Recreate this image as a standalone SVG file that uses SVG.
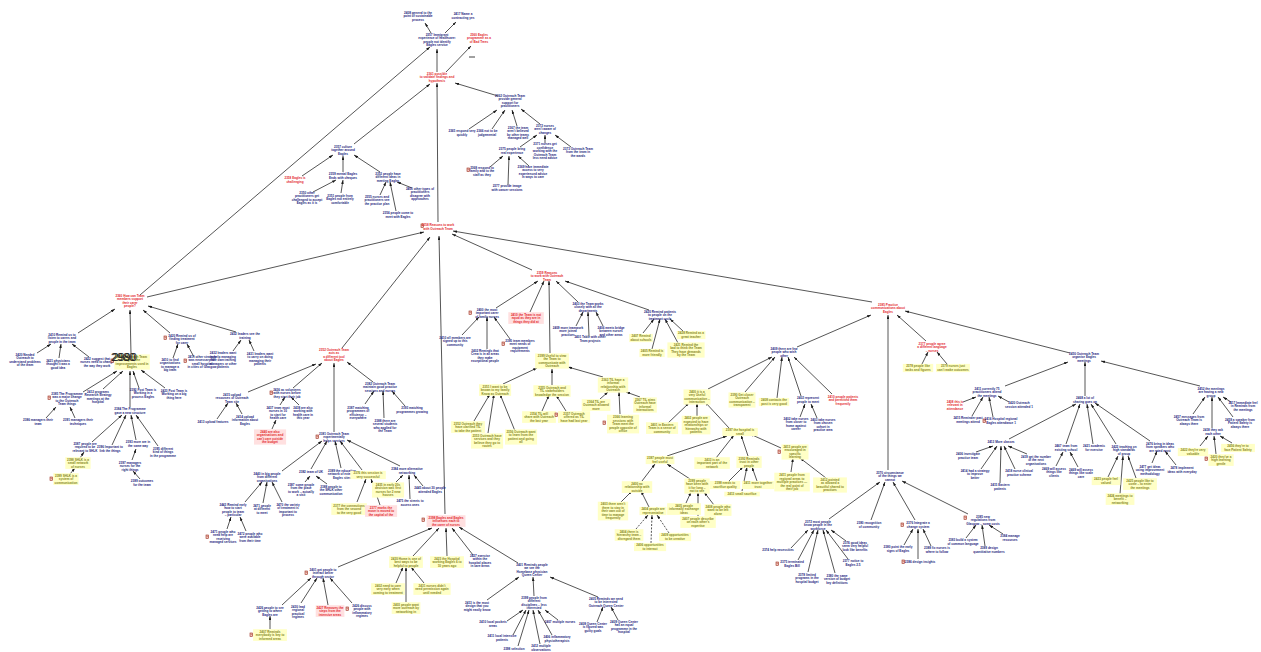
<svg xmlns="http://www.w3.org/2000/svg" xmlns:xlink="http://www.w3.org/1999/xlink" width="1261" height="652" viewBox="0 0 1261 652">
<style>
text{font-family:"Liberation Sans",Arial,sans-serif;font-size:3.1px;font-weight:700;text-anchor:middle}
.t{fill:#1d1d7d}
.ty{fill:#85851a}
.tr{fill:#e3262b}
.by{fill:#ffffc6}
.bp{fill:#ffe0e0}
.c line{stroke:#1e1e1e;stroke-width:0.75;marker-end:url(#ah)}
.c line.d{stroke-dasharray:2 1.4}
.big{font-family:"Liberation Sans",Arial,sans-serif;font-size:11px;font-weight:400;text-anchor:start;fill:#222}
</style>
<defs>
<marker id="ah" viewBox="0 0 6 4" refX="6" refY="2" markerWidth="4" markerHeight="2.7" markerUnits="userSpaceOnUse" orient="auto"><path d="M0,0 L6,2 L0,4 z" fill="#1a1a1a"/></marker>
<g id="ic"><rect x="0" y="0" width="2.6" height="3.4" fill="#f3c7bd" stroke="#9b2b1c" stroke-width="0.6"/><rect x="0.7" y="0.9" width="1.2" height="0.5" fill="#9b2b1c"/></g>
</defs>
<rect width="1261" height="652" fill="#fff"/>

<!-- connectors: child to parent, arrowhead at the parent -->
<g id="connectors" class="c">
<line x1="431" y1="33" x2="425" y2="23"/>
<line x1="445" y1="33" x2="456" y2="22"/>
<line x1="437" y1="72" x2="437" y2="49"/>
<line x1="446" y1="72" x2="471" y2="46"/>
<line x1="498" y1="96" x2="455" y2="83"/>
<line x1="469" y1="129" x2="497" y2="110"/>
<line x1="492" y1="129" x2="505" y2="110"/>
<line x1="517" y1="126" x2="512" y2="110"/>
<line x1="540" y1="124" x2="521" y2="109"/>
<line x1="520" y1="147" x2="537" y2="135"/>
<line x1="545" y1="143" x2="545" y2="135"/>
<line x1="571" y1="147" x2="555" y2="135"/>
<line x1="490" y1="167" x2="503" y2="156"/>
<line x1="508" y1="185" x2="509" y2="156"/>
<line x1="529" y1="166" x2="518" y2="156"/>
<line x1="354" y1="144" x2="430" y2="84"/>
<line x1="140" y1="295" x2="430" y2="47"/>
<line x1="438" y1="222" x2="437" y2="83"/>
<line x1="302" y1="176" x2="333" y2="155"/>
<line x1="343" y1="172" x2="343" y2="156"/>
<line x1="380" y1="172" x2="354" y2="155"/>
<line x1="412" y1="188" x2="397" y2="182"/>
<line x1="313" y1="192" x2="336" y2="180"/>
<line x1="341" y1="193" x2="343" y2="180"/>
<line x1="380" y1="195" x2="386" y2="182"/>
<line x1="396" y1="211" x2="390" y2="182"/>
<line x1="147" y1="297" x2="424" y2="232"/>
<line x1="342" y1="348" x2="430" y2="237"/>
<line x1="445" y1="514" x2="439" y2="236"/>
<line x1="532" y1="270" x2="452" y2="234"/>
<line x1="872" y1="302" x2="453" y2="231"/>
<line x1="78" y1="333" x2="115" y2="309"/>
<line x1="37" y1="353" x2="51" y2="344"/>
<line x1="59" y1="358" x2="61" y2="344"/>
<line x1="89" y1="357" x2="72" y2="344"/>
<line x1="131" y1="354" x2="130" y2="310"/>
<line x1="170" y1="333" x2="143" y2="310"/>
<line x1="173" y1="358" x2="178" y2="344"/>
<line x1="194" y1="357" x2="187" y2="344"/>
<line x1="236" y1="332" x2="148" y2="306"/>
<line x1="233" y1="351" x2="241" y2="340"/>
<line x1="254" y1="351" x2="249" y2="340"/>
<line x1="83" y1="392" x2="117" y2="371"/>
<line x1="103" y1="389" x2="123" y2="371"/>
<line x1="139" y1="388" x2="133" y2="371"/>
<line x1="165" y1="388" x2="141" y2="370"/>
<line x1="130" y1="407" x2="130" y2="371"/>
<line x1="46" y1="418" x2="56" y2="407"/>
<line x1="75" y1="418" x2="70" y2="407"/>
<line x1="92" y1="442" x2="122" y2="415"/>
<line x1="112" y1="445" x2="126" y2="415"/>
<line x1="136" y1="440" x2="131" y2="415"/>
<line x1="158" y1="446" x2="136" y2="415"/>
<line x1="80" y1="458" x2="84" y2="452"/>
<line x1="70" y1="474" x2="75" y2="468"/>
<line x1="132" y1="460" x2="136" y2="449"/>
<line x1="140" y1="479" x2="133" y2="471"/>
<line x1="248" y1="392" x2="316" y2="364"/>
<line x1="217" y1="419" x2="228" y2="403"/>
<line x1="242" y1="414" x2="236" y2="403"/>
<line x1="293" y1="388" x2="322" y2="363"/>
<line x1="280" y1="405" x2="285" y2="397"/>
<line x1="299" y1="405" x2="291" y2="397"/>
<line x1="272" y1="429" x2="276" y2="420"/>
<line x1="373" y1="382" x2="347" y2="362"/>
<line x1="365" y1="404" x2="374" y2="391"/>
<line x1="384" y1="418" x2="383" y2="391"/>
<line x1="405" y1="406" x2="392" y2="391"/>
<line x1="334" y1="432" x2="334" y2="363"/>
<line x1="282" y1="471" x2="322" y2="441"/>
<line x1="311" y1="469" x2="327" y2="441"/>
<line x1="341" y1="468" x2="335" y2="441"/>
<line x1="362" y1="470" x2="340" y2="441"/>
<line x1="400" y1="466" x2="347" y2="440"/>
<line x1="245" y1="502" x2="262" y2="482"/>
<line x1="263" y1="503" x2="267" y2="482"/>
<line x1="282" y1="502" x2="272" y2="482"/>
<line x1="227" y1="529" x2="231" y2="517"/>
<line x1="246" y1="531" x2="240" y2="517"/>
<line x1="305" y1="482" x2="310" y2="476"/>
<line x1="327" y1="484" x2="316" y2="476"/>
<line x1="357" y1="502" x2="366" y2="479"/>
<line x1="380" y1="505" x2="371" y2="479"/>
<line x1="396" y1="482" x2="403" y2="475"/>
<line x1="410" y1="499" x2="409" y2="475"/>
<line x1="423" y1="486" x2="414" y2="475"/>
<line x1="338" y1="567" x2="432" y2="528"/>
<line x1="413" y1="556" x2="439" y2="528"/>
<line x1="447" y1="556" x2="446" y2="528"/>
<line x1="473" y1="555" x2="452" y2="528"/>
<line x1="518" y1="563" x2="459" y2="527"/>
<line x1="282" y1="605" x2="311" y2="578"/>
<line x1="301" y1="603" x2="317" y2="578"/>
<line x1="328" y1="605" x2="323" y2="578"/>
<line x1="352" y1="603" x2="330" y2="578"/>
<line x1="270" y1="629" x2="270" y2="616"/>
<line x1="396" y1="583" x2="403" y2="567"/>
<line x1="406" y1="602" x2="406" y2="567"/>
<line x1="424" y1="583" x2="411" y2="567"/>
<line x1="487" y1="600" x2="519" y2="577"/>
<line x1="534" y1="596" x2="533" y2="577"/>
<line x1="598" y1="597" x2="550" y2="577"/>
<line x1="507" y1="621" x2="523" y2="610"/>
<line x1="513" y1="635" x2="526" y2="610"/>
<line x1="518" y1="646" x2="529" y2="610"/>
<line x1="540" y1="644" x2="533" y2="610"/>
<line x1="552" y1="635" x2="538" y2="610"/>
<line x1="558" y1="620" x2="545" y2="610"/>
<line x1="597" y1="622" x2="603" y2="607"/>
<line x1="618" y1="620" x2="611" y2="607"/>
<line x1="496" y1="308" x2="538" y2="281"/>
<line x1="530" y1="312" x2="544" y2="281"/>
<line x1="578" y1="302" x2="556" y2="281"/>
<line x1="649" y1="310" x2="565" y2="281"/>
<line x1="550" y1="353" x2="549" y2="281"/>
<line x1="462" y1="335" x2="479" y2="317"/>
<line x1="487" y1="349" x2="487" y2="317"/>
<line x1="510" y1="339" x2="494" y2="317"/>
<line x1="576" y1="326" x2="583" y2="312"/>
<line x1="589" y1="336" x2="588" y2="312"/>
<line x1="603" y1="326" x2="596" y2="312"/>
<line x1="643" y1="333" x2="654" y2="319"/>
<line x1="652" y1="349" x2="660" y2="319"/>
<line x1="678" y1="343" x2="665" y2="319"/>
<line x1="683" y1="331" x2="670" y2="319"/>
<line x1="503" y1="384" x2="537" y2="368"/>
<line x1="552" y1="385" x2="552" y2="369"/>
<line x1="603" y1="377" x2="568" y2="367"/>
<line x1="474" y1="421" x2="490" y2="394"/>
<line x1="488" y1="433" x2="494" y2="394"/>
<line x1="515" y1="431" x2="500" y2="394"/>
<line x1="542" y1="411" x2="549" y2="395"/>
<line x1="566" y1="411" x2="556" y2="395"/>
<line x1="600" y1="399" x2="608" y2="392"/>
<line x1="620" y1="414" x2="619" y2="392"/>
<line x1="640" y1="397" x2="626" y2="392"/>
<line x1="797" y1="347" x2="871" y2="315"/>
<line x1="708" y1="389" x2="772" y2="357"/>
<line x1="745" y1="392" x2="775" y2="357"/>
<line x1="777" y1="398" x2="782" y2="357"/>
<line x1="801" y1="396" x2="788" y2="357"/>
<line x1="832" y1="394" x2="794" y2="357"/>
<line x1="800" y1="417" x2="805" y2="404"/>
<line x1="817" y1="418" x2="811" y2="404"/>
<line x1="667" y1="424" x2="689" y2="403"/>
<line x1="697" y1="416" x2="697" y2="403"/>
<line x1="729" y1="428" x2="705" y2="402"/>
<line x1="667" y1="456" x2="727" y2="436"/>
<line x1="716" y1="458" x2="734" y2="435"/>
<line x1="748" y1="456" x2="741" y2="435"/>
<line x1="781" y1="448" x2="750" y2="434"/>
<line x1="791" y1="472" x2="793" y2="458"/>
<line x1="826" y1="478" x2="800" y2="458"/>
<line x1="729" y1="481" x2="743" y2="467"/>
<line x1="757" y1="481" x2="752" y2="467"/>
<line x1="742" y1="491" x2="747" y2="467"/>
<line x1="642" y1="481" x2="655" y2="464"/>
<line x1="690" y1="479" x2="667" y2="464"/>
<line x1="621" y1="502" x2="632" y2="491"/>
<line x1="649" y1="507" x2="641" y2="491"/>
<line class="d" x1="636" y1="529" x2="648" y2="515"/>
<line class="d" x1="651" y1="543" x2="652" y2="515"/>
<line class="d" x1="669" y1="533" x2="657" y2="515"/>
<line x1="686" y1="503" x2="691" y2="492"/>
<line x1="698" y1="516" x2="698" y2="492"/>
<line x1="714" y1="505" x2="704" y2="492"/>
<line x1="926" y1="341" x2="897" y2="315"/>
<line x1="922" y1="364" x2="928" y2="352"/>
<line x1="947" y1="364" x2="937" y2="352"/>
<line x1="888" y1="470" x2="888" y2="315"/>
<line x1="829" y1="519" x2="880" y2="482"/>
<line x1="871" y1="520" x2="885" y2="482"/>
<line x1="915" y1="520" x2="893" y2="482"/>
<line x1="968" y1="514" x2="902" y2="481"/>
<line x1="791" y1="548" x2="808" y2="530"/>
<line x1="798" y1="560" x2="814" y2="530"/>
<line x1="808" y1="572" x2="818" y2="530"/>
<line x1="835" y1="573" x2="823" y2="530"/>
<line x1="848" y1="559" x2="826" y2="530"/>
<line x1="846" y1="541" x2="831" y2="530"/>
<line x1="904" y1="545" x2="913" y2="529"/>
<line x1="918" y1="559" x2="918" y2="529"/>
<line x1="931" y1="546" x2="923" y2="529"/>
<line x1="966" y1="538" x2="976" y2="525"/>
<line x1="985" y1="546" x2="982" y2="525"/>
<line x1="1003" y1="534" x2="989" y2="525"/>
<line x1="1070" y1="353" x2="905" y2="311"/>
<line x1="1005" y1="386" x2="1068" y2="362"/>
<line x1="963" y1="402" x2="976" y2="397"/>
<line x1="972" y1="416" x2="983" y2="397"/>
<line x1="993" y1="417" x2="989" y2="397"/>
<line x1="1009" y1="402" x2="998" y2="396"/>
<line x1="1085" y1="396" x2="1085" y2="362"/>
<line x1="1200" y1="386" x2="1101" y2="361"/>
<line x1="1009" y1="439" x2="1076" y2="404"/>
<line x1="1066" y1="444" x2="1080" y2="404"/>
<line x1="1093" y1="444" x2="1087" y2="404"/>
<line x1="1116" y1="444" x2="1091" y2="404"/>
<line x1="1150" y1="441" x2="1095" y2="403"/>
<line x1="976" y1="452" x2="993" y2="446"/>
<line x1="981" y1="469" x2="997" y2="446"/>
<line x1="1000" y1="483" x2="1001" y2="446"/>
<line x1="1015" y1="469" x2="1004" y2="446"/>
<line x1="1027" y1="454" x2="1008" y2="446"/>
<line x1="1056" y1="466" x2="1063" y2="452"/>
<line x1="1078" y1="467" x2="1070" y2="452"/>
<line x1="1108" y1="477" x2="1118" y2="456"/>
<line x1="1120" y1="494" x2="1123" y2="456"/>
<line x1="1136" y1="478" x2="1128" y2="456"/>
<line x1="1152" y1="463" x2="1157" y2="451"/>
<line x1="1176" y1="465" x2="1165" y2="451"/>
<line x1="1193" y1="414" x2="1205" y2="397"/>
<line x1="1212" y1="428" x2="1212" y2="397"/>
<line x1="1233" y1="417" x2="1218" y2="397"/>
<line x1="1231" y1="402" x2="1223" y2="397"/>
<line x1="1200" y1="446" x2="1208" y2="436"/>
<line x1="1216" y1="454" x2="1214" y2="436"/>
<line x1="1232" y1="443" x2="1220" y2="436"/>
</g>

<!-- top cluster -->
<g id="n2408"><text class="t" x="418" y="13.6">2408 general to the<tspan x="418" dy="3.5">point of sustainable</tspan><tspan x="418" dy="3.5">process</tspan></text></g>
<g id="n2417"><text class="t" x="463" y="15.4">2417 Name a<tspan x="463" dy="3.5">contracting yes</tspan></text></g>
<g id="n2357"><text class="t" x="437" y="35.8">2357 Immigrant<tspan x="437" dy="3.5">experience of healthcare:</tspan><tspan x="437" dy="3.5">people not identify</tspan><tspan x="437" dy="3.5">Eagles service</tspan></text></g>
<g id="n2360a"><text class="tr" x="479" y="35.6">2360 Eagles<tspan x="479" dy="3.5">programme as a</tspan><tspan x="479" dy="3.5">of Bad Trees</tspan></text></g>
<g id="dash"><line x1="469" y1="57" x2="475" y2="57" stroke="#111" stroke-width="0.8"/></g>
<g id="n2361"><text class="tr" x="437" y="74.6">2361 possible<tspan x="437" dy="3.5">to validate findings and</tspan><tspan x="437" dy="3.5">hypothesis</tspan></text></g>
<g id="n2362"><text class="t" x="510" y="96.8">2362 Outreach Team<tspan x="510" dy="3.5">provide general</tspan><tspan x="510" dy="3.5">support for</tspan><tspan x="510" dy="3.5">practitioners</tspan></text></g>
<g id="n2365"><text class="t" x="462" y="132.4">2365 respond very<tspan x="462" dy="3.5">quickly</tspan></text></g>
<g id="n2366"><text class="t" x="487" y="132.4">2366 not to be<tspan x="487" dy="3.5">judgemental</tspan></text></g>
<g id="n2367"><text class="t" x="518" y="128.8">2367 the team<tspan x="518" dy="3.5">aren't believed</tspan><tspan x="518" dy="3.5">by other teams</tspan><tspan x="518" dy="3.5">managed well</tspan></text></g>
<g id="n2372"><text class="t" x="545" y="126.6">2372 nurses<tspan x="545" dy="3.5">aren't aware of</tspan><tspan x="545" dy="3.5">changes</tspan></text></g>
<g id="n2375"><text class="t" x="512" y="150.4">2375 people bring<tspan x="512" dy="3.5">real experience</tspan></text></g>
<g id="n2371"><text class="t" x="545" y="145">2371 nurses get<tspan x="545" dy="3.5">confidence</tspan><tspan x="545" dy="3.5">working with the</tspan><tspan x="545" dy="3.5">Outreach Team</tspan><tspan x="545" dy="3.5">less need advice</tspan></text></g>
<g id="n2373"><text class="t" x="578" y="149.6">2373 Outreach Team<tspan x="578" dy="3.5">from the team in</tspan><tspan x="578" dy="3.5">the wards</tspan></text></g>
<g id="n2368"><use href="#ic" x="467" y="168"/><text class="t" x="482" y="168.6">2368 respond to<tspan x="482" dy="3.5">family and to the</tspan><tspan x="482" dy="3.5">staff as they</tspan></text></g>
<g id="n2377a"><text class="t" x="507" y="187.4">2377 provide image<tspan x="507" dy="3.5">with cancer sessions</tspan></text></g>
<g id="n2369"><text class="t" x="533" y="167.8">2369 have immediate<tspan x="533" dy="3.5">access to very</tspan><tspan x="533" dy="3.5">experienced advice</tspan><tspan x="533" dy="3.5">in ways to care</tspan></text></g>

<!-- culture cluster -->
<g id="n2357b"><text class="t" x="343" y="147.6">2357 culture<tspan x="343" dy="3.5">together around</tspan><tspan x="343" dy="3.5">Eagles</tspan></text></g>
<g id="n2358a"><text class="tr" x="295" y="179.4">2358 Eagles is<tspan x="295" dy="3.5">challenging</tspan></text></g>
<g id="n2359a"><text class="t" x="343" y="175.4">2359 mental Eagles<tspan x="343" dy="3.5">Ends with cheques</tspan></text></g>
<g id="n2353a"><text class="t" x="388" y="174.6">2353 people have<tspan x="388" dy="3.5">different ideas in</tspan><tspan x="388" dy="3.5">meeting Eagles</tspan></text></g>
<g id="n2400a"><text class="t" x="420" y="189.8">2400 other types of<tspan x="420" dy="3.5">practitioners</tspan><tspan x="420" dy="3.5">disagree with</tspan><tspan x="420" dy="3.5">approaches</tspan></text></g>
<g id="n2350a"><text class="t" x="307" y="193.8">2350 other<tspan x="307" dy="3.5">practitioners get</tspan><tspan x="307" dy="3.5">challenged to accept</tspan><tspan x="307" dy="3.5">Eagles as it is</tspan></text></g>
<g id="n2351a"><text class="t" x="340" y="196.6">2351 people from<tspan x="340" dy="3.5">Eagles not entirely</tspan><tspan x="340" dy="3.5">comfortable</tspan></text></g>
<g id="n2355a"><text class="t" x="377" y="197.6">2355 nurses and<tspan x="377" dy="3.5">practitioners see</tspan><tspan x="377" dy="3.5">the practice plan</tspan></text></g>
<g id="n2356a"><text class="t" x="398" y="214.4">2356 people come to<tspan x="398" dy="3.5">meet with Eagles</tspan></text></g>

<!-- hub -->
<g id="n2358"><use href="#ic" x="421" y="224"/><text class="tr" x="438" y="226.4">2358 Reasons to work<tspan x="438" dy="3.5">with Outreach Team</tspan></text></g>

<!-- left branch -->
<g id="n2360"><text class="tr" x="130" y="296.8">2360 How can Team<tspan x="130" dy="3.5">members support</tspan><tspan x="130" dy="3.5">their carer</tspan><tspan x="130" dy="3.5">people?</tspan></text></g>
<g id="n2410a"><text class="t" x="62" y="335.6">2410 Remind us to<tspan x="62" dy="3.5">listen to carers and</tspan><tspan x="62" dy="3.5">people in the team</tspan></text></g>
<g id="n2420a"><text class="t" x="25" y="355.8">2420 Needed<tspan x="25" dy="3.5">Outreach to</tspan><tspan x="25" dy="3.5">understand problems</tspan><tspan x="25" dy="3.5">of the team</tspan></text></g>
<g id="n2421a"><text class="t" x="58" y="361.6">2421 physicians<tspan x="58" dy="3.5">thought it was a</tspan><tspan x="58" dy="3.5">good idea</tspan></text></g>
<g id="n2422a"><text class="t" x="97" y="359.6">2422 suggest that<tspan x="97" dy="3.5">nurses need to change</tspan><tspan x="97" dy="3.5">the way they work</tspan></text></g>
<g id="n2380"><use href="#ic" x="111" y="359"/><rect class="by" x="114.3" y="354.4" width="35.5" height="15.2"/><text class="ty" x="132" y="357.8">2380 Outreach Team<tspan x="132" dy="3.5">Eagles, the</tspan><tspan x="132" dy="3.5">improvements used in</tspan><tspan x="132" dy="3.5">Eagles</tspan></text></g>
<g id="stamp"><text class="big" x="111" y="361">2980<tspan dx="-23.1">2990</tspan></text></g>
<g id="n2420b"><use href="#ic" x="164" y="336"/><text class="t" x="182" y="336.6">2420 Remind us of<tspan x="182" dy="3.5">finding treatment</tspan><tspan x="182" dy="3.5">for carer</tspan></text></g>
<g id="n2410b"><text class="t" x="170" y="360.8">2410 to find<tspan x="170" dy="3.5">organisations</tspan><tspan x="170" dy="3.5">to manage a</tspan><tspan x="170" dy="3.5">big team</tspan></text></g>
<g id="n2411a"><use href="#ic" x="184" y="359"/><text class="t" x="202" y="357.8">2411 other strategy<tspan x="202" dy="3.5">was necessary for</tspan><tspan x="202" dy="3.5">small hospital</tspan><tspan x="202" dy="3.5">in cities of Glasgow</tspan></text></g>
<g id="n2432a"><text class="t" x="245" y="335.4">2432 leaders see the<tspan x="245" dy="3.5">training</tspan></text></g>
<g id="n2432b"><text class="t" x="223" y="354">2432 leaders want<tspan x="223" dy="3.5">to help managing</tspan><tspan x="223" dy="3.5">their own training</tspan><tspan x="223" dy="3.5">managers or other</tspan><tspan x="223" dy="3.5">patients</tspan></text></g>
<g id="n2431a"><text class="t" x="260" y="354.8">2431 leaders want<tspan x="260" dy="3.5">to carry on doing</tspan><tspan x="260" dy="3.5">managing their</tspan><tspan x="260" dy="3.5">patients</tspan></text></g>
<g id="n2385a"><use href="#ic" x="48" y="396"/><text class="t" x="67" y="394.8">2385 The Programme<tspan x="67" dy="3.5">was a major change</tspan><tspan x="67" dy="3.5">to the Outreach</tspan><tspan x="67" dy="3.5">Team things</tspan></text></g>
<g id="n2412a"><text class="t" x="98" y="392.8">2412 programs<tspan x="98" dy="3.5">Research Strategy</tspan><tspan x="98" dy="3.5">meetings at the</tspan><tspan x="98" dy="3.5">hospital</tspan></text></g>
<g id="n2392a"><text class="t" x="143" y="390.6">2392 Post Team is<tspan x="143" dy="3.5">Working in a</tspan><tspan x="143" dy="3.5">process Eagles</tspan></text></g>
<g id="n2423a"><text class="t" x="174" y="391.6">2423 Post Team is<tspan x="174" dy="3.5">Working on a big</tspan><tspan x="174" dy="3.5">thing here</tspan></text></g>
<g id="n2384a"><text class="t" x="130" y="410.4">2384 The Programme<tspan x="130" dy="3.5">gave a new structure</tspan></text></g>
<g id="n2386a"><text class="t" x="38" y="421.4">2386 managers their<tspan x="38" dy="3.5">team</tspan></text></g>
<g id="n2391a"><text class="t" x="78" y="421.4">2391 managers their<tspan x="78" dy="3.5">techniques</tspan></text></g>
<g id="n2387a"><text class="t" x="85" y="444.6">2387 people are<tspan x="85" dy="3.5">required to be</tspan><tspan x="85" dy="3.5">relevant to SHLK</tspan></text></g>
<g id="n2396a"><text class="t" x="110" y="448.4">2396 Important to<tspan x="110" dy="3.5">link the things</tspan></text></g>
<g id="n2393a"><text class="t" x="138" y="443.4">2393 more are in<tspan x="138" dy="3.5">the same way</tspan></text></g>
<g id="n2395a"><text class="t" x="163" y="449.6">2395 different<tspan x="163" dy="3.5">kind of things</tspan><tspan x="163" dy="3.5">in the programme</tspan></text></g>
<g id="n2398a"><rect class="by" x="65.3" y="457.2" width="25.3" height="11.7"/><text class="ty" x="78" y="460.6">2398 SHLK is a<tspan x="78" dy="3.5">small network</tspan><tspan x="78" dy="3.5">of nurses</tspan></text></g>
<g id="n2399a"><use href="#ic" x="50" y="477"/><rect class="by" x="53.3" y="473.2" width="25.3" height="11.7"/><text class="ty" x="66" y="476.6">2399 SHLK is a<tspan x="66" dy="3.5">system of</tspan><tspan x="66" dy="3.5">communication</tspan></text></g>
<g id="n2397a"><text class="t" x="130" y="463.6">2397 managers<tspan x="130" dy="3.5">nurses for the</tspan><tspan x="130" dy="3.5">right things</tspan></text></g>
<g id="n2389a"><text class="t" x="142" y="482.4">2389 outcomes<tspan x="142" dy="3.5">for the team</tspan></text></g>

<!-- middle-left branch -->
<g id="n2352"><text class="tr" x="334" y="350.8">2352 Outreach Team<tspan x="334" dy="3.5">acts as</tspan><tspan x="334" dy="3.5">a different tool</tspan><tspan x="334" dy="3.5">about Eagles</tspan></text></g>
<g id="n2415a"><text class="t" x="232" y="395.6">2415 upload<tspan x="232" dy="3.5">resources of Outreach</tspan><tspan x="232" dy="3.5">Team site</tspan></text></g>
<g id="n2413a"><text class="t" x="213" y="423.2">2413 upload features</text></g>
<g id="n2414a"><text class="t" x="245" y="417.6">2414 upload<tspan x="245" dy="3.5">information about</tspan><tspan x="245" dy="3.5">Eagles</tspan></text></g>
<g id="n2436a"><use href="#ic" x="270" y="391"/><text class="t" x="287" y="390.6">2436 as volunteers<tspan x="287" dy="3.5">with nurses before</tspan><tspan x="287" dy="3.5">they start their job</tspan></text></g>
<g id="n2437a"><text class="t" x="278" y="408.8">2437 team must<tspan x="278" dy="3.5">nurses in 10</tspan><tspan x="278" dy="3.5">to start for</tspan><tspan x="278" dy="3.5">health care</tspan></text></g>
<g id="n2438a"><text class="t" x="303" y="408.8">2438 are also<tspan x="303" dy="3.5">working with</tspan><tspan x="303" dy="3.5">health care in</tspan><tspan x="303" dy="3.5">this year</tspan></text></g>
<g id="n2440a"><rect class="bp" x="254" y="429.4" width="32.1" height="15.2"/><text class="tr" x="270" y="432.8">2440 are also<tspan x="270" dy="3.5">organisations and</tspan><tspan x="270" dy="3.5">can't care outside</tspan><tspan x="270" dy="3.5">the budget</tspan></text></g>
<g id="n2382a"><text class="t" x="380" y="384.6">2382 Outreach Team<tspan x="380" dy="3.5">maintain good practice</tspan><tspan x="380" dy="3.5">sessions and nurses</tspan></text></g>
<g id="n2387b"><text class="t" x="358" y="408.8">2387 matching<tspan x="358" dy="3.5">programmes of</tspan><tspan x="358" dy="3.5">efficiency –</tspan><tspan x="358" dy="3.5">everywhere</tspan></text></g>
<g id="n2388a"><text class="t" x="385" y="421.8">2388 there are<tspan x="385" dy="3.5">several students</tspan><tspan x="385" dy="3.5">who applied for</tspan><tspan x="385" dy="3.5">the Team</tspan></text></g>
<g id="n2393b"><text class="t" x="412" y="409.4">2393 matching<tspan x="412" dy="3.5">programmes growing</tspan></text></g>
<g id="n2381"><use href="#ic" x="316" y="435"/><text class="t" x="334" y="434.6">2381 Outreach Team<tspan x="334" dy="3.5">experimentally</tspan><tspan x="334" dy="3.5">helps services</tspan></text></g>
<g id="n2440b"><text class="t" x="267" y="474.6">2440 in big people<tspan x="267" dy="3.5">from different</tspan><tspan x="267" dy="3.5">organisations</tspan></text></g>
<g id="n2382b"><text class="t" x="311" y="473.2">2382 team of UK</text></g>
<g id="n2389b"><text class="t" x="342" y="471.6">2389 the education<tspan x="342" dy="3.5">network of external</tspan><tspan x="342" dy="3.5">Eagles sites</tspan></text></g>
<g id="n2376a"><rect class="by" x="350.3" y="470.9" width="35.5" height="8.2"/><text class="ty" x="368" y="474.4">2376 this session is<tspan x="368" dy="3.5">very successful</tspan></text></g>
<g id="n2384b"><text class="t" x="407" y="470.4">2384 more alternative<tspan x="407" dy="3.5">networking</tspan></text></g>
<g id="n2443a"><text class="t" x="233" y="505.8">2443 Remind early<tspan x="233" dy="3.5">how to start</tspan><tspan x="233" dy="3.5">people to team</tspan><tspan x="233" dy="3.5">– particular</tspan></text></g>
<g id="n2471a"><text class="t" x="262" y="506.6">2471 people<tspan x="262" dy="3.5">at different</tspan><tspan x="262" dy="3.5">to meet</tspan></text></g>
<g id="n2470a"><text class="t" x="288" y="505.8">2470 the variety<tspan x="288" dy="3.5">of treatment is</tspan><tspan x="288" dy="3.5">important to</tspan><tspan x="288" dy="3.5">process</tspan></text></g>
<g id="n2471b"><use href="#ic" x="206" y="535"/><text class="t" x="223" y="532.8">2471 people who<tspan x="223" dy="3.5">need help are</tspan><tspan x="223" dy="3.5">receiving</tspan><tspan x="223" dy="3.5">managed services</tspan></text></g>
<g id="n2472a"><text class="t" x="250" y="534.6">2472 people who<tspan x="250" dy="3.5">were available</tspan><tspan x="250" dy="3.5">from their time</tspan></text></g>
<g id="n2387c"><text class="t" x="301" y="485.8">2387 some people<tspan x="301" dy="3.5">from the place</tspan><tspan x="301" dy="3.5">to work – actually</tspan><tspan x="301" dy="3.5">a visit</tspan></text></g>
<g id="n2388b"><text class="t" x="331" y="487.6">2388 people to<tspan x="331" dy="3.5">the SHLK other</tspan><tspan x="331" dy="3.5">communication</tspan></text></g>
<g id="n2377b"><rect class="by" x="331.3" y="503.2" width="35.5" height="11.7"/><text class="ty" x="349" y="506.6">2377 the connections<tspan x="349" dy="3.5">from the second</tspan><tspan x="349" dy="3.5">to the very good</tspan></text></g>
<g id="n2377c"><rect class="bp" x="365" y="505.2" width="32.1" height="11.7"/><text class="tr" x="381" y="508.6">2377 marks the<tspan x="381" dy="3.5">move is moved to</tspan><tspan x="381" dy="3.5">the capital of the</tspan></text></g>
<g id="n2435a"><rect class="by" x="372" y="482.4" width="32.1" height="15.2"/><text class="ty" x="388" y="485.8">2435 in early 20s<tspan x="388" dy="3.5">decision was first</tspan><tspan x="388" dy="3.5">nurses for 2 new</tspan><tspan x="388" dy="3.5">houses</tspan></text></g>
<g id="n2475a"><text class="t" x="410" y="502.4">2475 the streets to<tspan x="410" dy="3.5">access ones</tspan></text></g>
<g id="n2445a"><text class="t" x="430" y="489.4">2445 about 30 people<tspan x="430" dy="3.5">attended Eagles</tspan></text></g>

<!-- bottom branch -->
<g id="n2398"><use href="#ic" x="422" y="518"/><rect class="bp" x="426.6" y="515.2" width="38.9" height="11.7"/><text class="tr" x="446" y="518.6">2398 Eagles and Eagles<tspan x="446" dy="3.5">influences each to</tspan><tspan x="446" dy="3.5">the carer of nurses</tspan></text></g>
<g id="n2401a"><use href="#ic" x="305" y="571"/><text class="t" x="323" y="570.6">2401 get people to<tspan x="323" dy="3.5">interact better</tspan><tspan x="323" dy="3.5">through sector</tspan></text></g>
<g id="n2430a"><rect class="by" x="389.1" y="556.2" width="33.8" height="11.7"/><text class="ty" x="406" y="559.6">2430 Home is one of<tspan x="406" dy="3.5">best ways to be</tspan><tspan x="406" dy="3.5">helpful to people</tspan></text></g>
<g id="n2423b"><rect class="by" x="430.1" y="556.2" width="33.8" height="11.7"/><text class="ty" x="447" y="559.6">2423 the Hospital<tspan x="447" dy="3.5">working Eagles 6 to</tspan><tspan x="447" dy="3.5">10 years ago</tspan></text></g>
<g id="n2437b"><text class="t" x="480" y="556.8">2437 exercise<tspan x="480" dy="3.5">within the</tspan><tspan x="480" dy="3.5">hospital places</tspan><tspan x="480" dy="3.5">in care areas</tspan></text></g>
<g id="n2401b"><text class="t" x="532" y="565.8">2401 Reminds people<tspan x="532" dy="3.5">we see the</tspan><tspan x="532" dy="3.5">Homebase physician</tspan><tspan x="532" dy="3.5">Queen Center</tspan></text></g>
<g id="n2426a"><text class="t" x="270" y="608.6">2426 people to see<tspan x="270" dy="3.5">getting to where</tspan><tspan x="270" dy="3.5">Eagles are</tspan></text></g>
<g id="n2430b"><text class="t" x="298" y="607.8">2430 lead<tspan x="298" dy="3.5">regional</tspan><tspan x="298" dy="3.5">practical</tspan><tspan x="298" dy="3.5">regimes</tspan></text></g>
<g id="n2427a"><rect class="bp" x="315.7" y="605.2" width="28.7" height="11.7"/><text class="tr" x="330" y="608.6">2427 Removes the<tspan x="330" dy="3.5">steps from the</tspan><tspan x="330" dy="3.5">intensive areas</tspan></text></g>
<g id="n2426b"><use href="#ic" x="346" y="607"/><text class="t" x="362" y="606.8">2426 discuss<tspan x="362" dy="3.5">people with</tspan><tspan x="362" dy="3.5">inflammatory</tspan><tspan x="362" dy="3.5">regimes</tspan></text></g>
<g id="n2407a"><use href="#ic" x="250" y="633"/><rect class="by" x="253.1" y="629.2" width="33.8" height="11.7"/><text class="ty" x="270" y="632.6">2407 Reminds<tspan x="270" dy="3.5">everybody is key to</tspan><tspan x="270" dy="3.5">informed areas</tspan></text></g>
<g id="n2402a"><rect class="by" x="371.1" y="583.2" width="33.8" height="11.7"/><text class="ty" x="388" y="586.6">2402 need to care<tspan x="388" dy="3.5">very early when</tspan><tspan x="388" dy="3.5">coming to treatment</tspan></text></g>
<g id="n2403a"><rect class="by" x="391.7" y="602.2" width="28.7" height="11.7"/><text class="ty" x="406" y="605.6">2403 people want<tspan x="406" dy="3.5">more outreach by</tspan><tspan x="406" dy="3.5">networking in</tspan></text></g>
<g id="n2431b"><rect class="by" x="413.4" y="583.2" width="37.2" height="11.7"/><text class="ty" x="432" y="586.6">2431 nurses didn't<tspan x="432" dy="3.5">need permission again</tspan><tspan x="432" dy="3.5">until needed</tspan></text></g>
<g id="n2413b"><text class="t" x="477" y="603.6">2413 is the most<tspan x="477" dy="3.5">design that you</tspan><tspan x="477" dy="3.5">might easily know</tspan></text></g>
<g id="n2399b"><text class="t" x="534" y="598.8">2399 people from<tspan x="534" dy="3.5">different</tspan><tspan x="534" dy="3.5">disciplines – less</tspan><tspan x="534" dy="3.5">interested</tspan></text></g>
<g id="n2405a"><text class="t" x="606" y="599.6">2405 Reminds we need<tspan x="606" dy="3.5">to be interested</tspan><tspan x="606" dy="3.5">Outreach Queen Center</tspan></text></g>
<g id="n2410c"><text class="t" x="493" y="623.4">2410 local pockets<tspan x="493" dy="3.5">areas</tspan></text></g>
<g id="n2411b"><text class="t" x="502" y="637.4">2411 local intensive<tspan x="502" dy="3.5">patients</tspan></text></g>
<g id="n2398b"><text class="t" x="514" y="650.2">2398 selection</text></g>
<g id="n2412b"><text class="t" x="541" y="647.4">2412 multiple<tspan x="541" dy="3.5">observations</tspan></text></g>
<g id="n2406a"><text class="t" x="557" y="638.4">2406 inflammatory<tspan x="557" dy="3.5">physiotherapists</tspan></text></g>
<g id="n2407b"><text class="t" x="560" y="623.2">2407 multiple nurses</text></g>
<g id="n2408b"><text class="t" x="593" y="624.6">2408 Queen Center<tspan x="593" dy="3.5">is figured was</tspan><tspan x="593" dy="3.5">guilty goals</tspan></text></g>
<g id="n2409a"><text class="t" x="624" y="622.8">2409 Queen Center<tspan x="624" dy="3.5">has an equal</tspan><tspan x="624" dy="3.5">programme in the</tspan><tspan x="624" dy="3.5">hospital</tspan></text></g>

<!-- centre-right branch -->
<g id="n2359"><text class="tr" x="547" y="273.6">2359 Reasons<tspan x="547" dy="3.5">to work with Outreach</tspan><tspan x="547" dy="3.5">Team</tspan></text></g>
<g id="n2400b"><use href="#ic" x="469" y="311"/><text class="t" x="487" y="310.6">2400 the most<tspan x="487" dy="3.5">important carer</tspan><tspan x="487" dy="3.5">of family nurses</tspan></text></g>
<g id="n2410d"><rect class="bp" x="508.3" y="312.2" width="35.5" height="11.7"/><text class="tr" x="526" y="315.6">2410 the Team is not<tspan x="526" dy="3.5">equal as they are in</tspan><tspan x="526" dy="3.5">things they did at</tspan></text></g>
<g id="n2403b"><text class="t" x="588" y="304.6">2403 the Team works<tspan x="588" dy="3.5">closely with all the</tspan><tspan x="588" dy="3.5">departments</tspan></text></g>
<g id="n2420c"><text class="t" x="660" y="312.6">2420 Remind patients<tspan x="660" dy="3.5">to people on the</tspan><tspan x="660" dy="3.5">treatment cycle</tspan></text></g>
<g id="n2399c"><rect class="by" x="535.1" y="353.4" width="33.8" height="15.2"/><text class="ty" x="552" y="356.8">2399 Useful to view<tspan x="552" dy="3.5">the Team to</tspan><tspan x="552" dy="3.5">communicate with</tspan><tspan x="552" dy="3.5">Outreach</tspan></text></g>
<g id="n2410e"><text class="t" x="455" y="338.6">2410 all members are<tspan x="455" dy="3.5">signed up to this</tspan><tspan x="455" dy="3.5">community</tspan></text></g>
<g id="n2402b"><text class="t" x="485" y="351.8">2402 Reminds that<tspan x="485" dy="3.5">Crew is in all areas</tspan><tspan x="485" dy="3.5">they make</tspan><tspan x="485" dy="3.5">exceptional people</tspan></text></g>
<g id="n2395b"><use href="#ic" x="502" y="342"/><text class="t" x="520" y="341.8">2395 team members<tspan x="520" dy="3.5">meet needs of</tspan><tspan x="520" dy="3.5">equipment</tspan><tspan x="520" dy="3.5">requirements</tspan></text></g>
<g id="n2409b"><text class="t" x="568" y="328.6">2409 more teamwork<tspan x="568" dy="3.5">more joined</tspan><tspan x="568" dy="3.5">practices</tspan></text></g>
<g id="n2401c"><text class="t" x="590" y="338.4">2401 Table with other<tspan x="590" dy="3.5">Team projects</tspan></text></g>
<g id="n2406b"><text class="t" x="611" y="328.6">2406 meets bridge<tspan x="611" dy="3.5">between nurses</tspan><tspan x="611" dy="3.5">and other areas</tspan></text></g>
<g id="n2407c"><rect class="by" x="629.2" y="333.9" width="23.6" height="8.2"/><text class="ty" x="641" y="337.4">2407 Remind<tspan x="641" dy="3.5">about schools</tspan></text></g>
<g id="n2405b"><rect class="by" x="639.4" y="348.9" width="25.3" height="8.2"/><text class="ty" x="652" y="352.4">2405 Remind is<tspan x="652" dy="3.5">more friendly</tspan></text></g>
<g id="n2421b"><rect class="by" x="667.4" y="342.4" width="37.2" height="15.2"/><text class="ty" x="686" y="345.8">2421 Remind the<tspan x="686" dy="3.5">bad to think the Team</tspan><tspan x="686" dy="3.5">They have demands</tspan><tspan x="686" dy="3.5">by the Team</tspan></text></g>
<g id="n2428a"><rect class="by" x="676.7" y="330.9" width="28.7" height="8.2"/><text class="ty" x="691" y="334.4">2428 Remind as a<tspan x="691" dy="3.5">great teacher</tspan></text></g>
<g id="n2351b"><rect class="by" x="479" y="384.2" width="32.1" height="11.7"/><text class="ty" x="495" y="387.6">2351 I want to be<tspan x="495" dy="3.5">known to my family</tspan><tspan x="495" dy="3.5">Know as Outreach</tspan></text></g>
<g id="n2355b"><rect class="by" x="533.4" y="385.2" width="37.2" height="11.7"/><text class="ty" x="552" y="388.6">2355 Outreach and<tspan x="552" dy="3.5">TIL stakeholders</tspan><tspan x="552" dy="3.5">knowledge the session</tspan></text></g>
<g id="n2363a"><rect class="by" x="597.8" y="377.4" width="30.4" height="15.2"/><text class="ty" x="613" y="380.8">2363 TIL have a<tspan x="613" dy="3.5">informal</tspan><tspan x="613" dy="3.5">relationship with</tspan><tspan x="613" dy="3.5">Outreach</tspan></text></g>
<g id="n2352b"><rect class="by" x="451.1" y="421.2" width="33.8" height="11.7"/><text class="ty" x="468" y="424.6">2352 Outreach they<tspan x="468" dy="3.5">have clarified TIL</tspan><tspan x="468" dy="3.5">to take the patient</tspan></text></g>
<g id="n2353b"><rect class="by" x="471" y="433.4" width="32.1" height="15.2"/><text class="ty" x="487" y="436.8">2353 Outreach have<tspan x="487" dy="3.5">services and they</tspan><tspan x="487" dy="3.5">believe they go to</tspan><tspan x="487" dy="3.5">routes</tspan></text></g>
<g id="n2356b"><rect class="by" x="505" y="429.4" width="32.1" height="15.2"/><text class="ty" x="521" y="432.8">2356 Outreach want<tspan x="521" dy="3.5">to learn from the</tspan><tspan x="521" dy="3.5">patient and going</tspan><tspan x="521" dy="3.5">all</tspan></text></g>
<g id="n2354a"><rect class="by" x="522.1" y="411.2" width="33.8" height="11.7"/><text class="ty" x="539" y="414.6">2354 TIL will<tspan x="539" dy="3.5">share with Outreach</tspan><tspan x="539" dy="3.5">the last year</tspan></text></g>
<g id="n2357c"><use href="#ic" x="555" y="413"/><rect class="by" x="558" y="411.2" width="32.1" height="11.7"/><text class="ty" x="574" y="414.6">2357 Outreach<tspan x="574" dy="3.5">offered as TIL</tspan><tspan x="574" dy="3.5">have had last year</tspan></text></g>
<g id="n2364a"><rect class="by" x="581.7" y="399.2" width="28.7" height="11.7"/><text class="ty" x="596" y="402.6">2364 TIL are<tspan x="596" dy="3.5">Outreach allowed</tspan><tspan x="596" dy="3.5">more</tspan></text></g>
<g id="n2366a"><use href="#ic" x="603" y="421"/><rect class="by" x="607" y="414.7" width="32.1" height="18.7"/><text class="ty" x="623" y="418">2366 learning<tspan x="623" dy="3.5">sessions with</tspan><tspan x="623" dy="3.5">Team meet the</tspan><tspan x="623" dy="3.5">people opposite of</tspan><tspan x="623" dy="3.5">office</tspan></text></g>
<g id="n2367a"><rect class="by" x="633.2" y="397.4" width="23.6" height="15.2"/><text class="ty" x="645" y="400.8">2367 TIL aims<tspan x="645" dy="3.5">Outreach have</tspan><tspan x="645" dy="3.5">informal</tspan><tspan x="645" dy="3.5">interactions</tspan></text></g>

<!-- right branch -->
<g id="n2385"><text class="tr" x="888" y="305.6">2385 Practice<tspan x="888" dy="3.5">communications about</tspan><tspan x="888" dy="3.5">Eagles</tspan></text></g>
<g id="n2409"><text class="t" x="784" y="349.6">2409 there are few<tspan x="784" dy="3.5">people who wish</tspan><tspan x="784" dy="3.5">other</tspan></text></g>
<g id="n2400c"><rect class="by" x="683.5" y="389.4" width="27" height="15.2"/><text class="ty" x="697" y="392.8">2400 it is a<tspan x="697" dy="3.5">very Useful</tspan><tspan x="697" dy="3.5">communication –</tspan><tspan x="697" dy="3.5">interaction</tspan></text></g>
<g id="n2390a"><rect class="by" x="728.5" y="392.4" width="27" height="15.2"/><text class="ty" x="742" y="395.8">2390 Get closer<tspan x="742" dy="3.5">Outreach</tspan><tspan x="742" dy="3.5">communication –</tspan><tspan x="742" dy="3.5">transparent</tspan></text></g>
<g id="n2408c"><rect class="by" x="758.8" y="397.9" width="30.4" height="8.2"/><text class="ty" x="774" y="401.4">2408 contacts the<tspan x="774" dy="3.5">post is very good</tspan></text></g>
<g id="n2402c"><text class="t" x="808" y="399.4">2402 represent<tspan x="808" dy="3.5">people to meet</tspan></text></g>
<g id="n2410f"><text class="tr" x="843" y="397.6">2410 people patients<tspan x="843" dy="3.5">and permitted them</tspan><tspan x="843" dy="3.5">frequently</tspan></text></g>
<g id="n2402d"><text class="t" x="796" y="419.8">2402 take nurses<tspan x="796" dy="3.5">from closer to</tspan><tspan x="796" dy="3.5">home against</tspan><tspan x="796" dy="3.5">career</tspan></text></g>
<g id="n2403c"><text class="t" x="823" y="420.8">2403 take nurses<tspan x="823" dy="3.5">from chosen</tspan><tspan x="823" dy="3.5">cohort in</tspan><tspan x="823" dy="3.5">practice area</tspan></text></g>
<g id="n2401d"><rect class="by" x="646" y="422.2" width="32.1" height="11.7"/><text class="ty" x="662" y="425.6">2401 in Eastern<tspan x="662" dy="3.5">Team is a sense of</tspan><tspan x="662" dy="3.5">community</tspan></text></g>
<g id="n2402e"><rect class="by" x="681.7" y="415.7" width="28.7" height="18.7"/><text class="ty" x="696" y="419">2402 people are<tspan x="696" dy="3.5">expected to have</tspan><tspan x="696" dy="3.5">relationships or</tspan><tspan x="696" dy="3.5">hierarchy with</tspan><tspan x="696" dy="3.5">patients</tspan></text></g>
<g id="n2397b"><rect class="by" x="722.3" y="427.9" width="35.5" height="8.2"/><text class="ty" x="740" y="431.4">2397 the hospital is<tspan x="740" dy="3.5">small</tspan></text></g>
<g id="n2387d"><rect class="by" x="645.7" y="455.9" width="28.7" height="8.2"/><text class="ty" x="660" y="459.4">2387 people must<tspan x="660" dy="3.5">feel useful</tspan></text></g>
<g id="n2433a"><rect class="by" x="694.3" y="457.2" width="35.5" height="11.7"/><text class="ty" x="712" y="460.6">2433 is an<tspan x="712" dy="3.5">important part of the</tspan><tspan x="712" dy="3.5">network</tspan></text></g>
<g id="n2392b"><rect class="by" x="736.4" y="456.2" width="25.3" height="11.7"/><text class="ty" x="749" y="459.6">2392 Reminds<tspan x="749" dy="3.5">trust in other</tspan><tspan x="749" dy="3.5">people</tspan></text></g>
<g id="n2413c"><use href="#ic" x="778" y="450"/><rect class="by" x="781.5" y="444.4" width="27" height="15.2"/><text class="ty" x="795" y="447.8">2413 people are<tspan x="795" dy="3.5">encouraged in</tspan><tspan x="795" dy="3.5">specific</tspan><tspan x="795" dy="3.5">learning</tspan></text></g>
<g id="n2411c"><rect class="by" x="774.3" y="472.7" width="35.5" height="18.7"/><text class="ty" x="792" y="476">2411 people from<tspan x="792" dy="3.5">regional areas to</tspan><tspan x="792" dy="3.5">multiple practices —</tspan><tspan x="792" dy="3.5">the real point of</tspan><tspan x="792" dy="3.5">their job</tspan></text></g>
<g id="n2412c"><rect class="by" x="813.1" y="477.4" width="33.8" height="15.2"/><text class="ty" x="830" y="480.8">2412 pointed<tspan x="830" dy="3.5">as allowed a</tspan><tspan x="830" dy="3.5">beautiful shared to</tspan><tspan x="830" dy="3.5">practices</tspan></text></g>
<g id="n2398c"><rect class="by" x="709.8" y="480.9" width="30.4" height="8.2"/><text class="ty" x="725" y="484.4">2398 needs to<tspan x="725" dy="3.5">sacrifice quality</tspan></text></g>
<g id="n2411d"><rect class="by" x="742" y="480.9" width="32.1" height="8.2"/><text class="ty" x="758" y="484.4">2411 more together<tspan x="758" dy="3.5">trust</tspan></text></g>
<g id="n2413d"><rect class="by" x="724.3" y="491.7" width="35.5" height="4.7"/><text class="ty" x="742" y="495.2">2413 small sacrifice</text></g>
<g id="n2400d"><rect class="by" x="621.8" y="481.2" width="30.4" height="11.7"/><text class="ty" x="637" y="484.6">2400 no<tspan x="637" dy="3.5">relationship with</tspan><tspan x="637" dy="3.5">outside</tspan></text></g>
<g id="n2399d"><rect class="by" x="684.4" y="478.4" width="25.3" height="15.2"/><text class="ty" x="697" y="481.8">2399 people<tspan x="697" dy="3.5">have been with</tspan><tspan x="697" dy="3.5">it for long –</tspan><tspan x="697" dy="3.5">not to see</tspan></text></g>
<g id="n2403d"><rect class="by" x="597.8" y="501.7" width="30.4" height="18.7"/><text class="ty" x="613" y="505">2403 there aren't<tspan x="613" dy="3.5">there to stay in</tspan><tspan x="613" dy="3.5">their own out of</tspan><tspan x="613" dy="3.5">time to manage</tspan><tspan x="613" dy="3.5">frequently</tspan></text></g>
<g id="n2404a"><rect class="by" x="639.5" y="506.9" width="27" height="8.2"/><text class="ty" x="653" y="510.4">2404 people are<tspan x="653" dy="3.5">representative</tspan></text></g>
<g id="n2404b"><rect class="by" x="614.7" y="529.2" width="28.7" height="11.7"/><text class="ty" x="629" y="532.6">2404 there is<tspan x="629" dy="3.5">hierarchy team –</tspan><tspan x="629" dy="3.5">disregard them</tspan></text></g>
<g id="n2406c"><rect class="by" x="634" y="542.9" width="32.1" height="8.2"/><text class="ty" x="650" y="546.4">2406 opportunities<tspan x="650" dy="3.5">to interact</tspan></text></g>
<g id="n2409c"><rect class="by" x="659" y="532.9" width="32.1" height="8.2"/><text class="ty" x="675" y="536.4">2409 opportunities<tspan x="675" dy="3.5">to be creative</tspan></text></g>
<g id="n2405c"><rect class="by" x="667.1" y="503.2" width="33.8" height="11.7"/><text class="ty" x="684" y="506.6">2405 people<tspan x="684" dy="3.5">informally exchange</tspan><tspan x="684" dy="3.5">ideas</tspan></text></g>
<g id="n2407d"><rect class="by" x="680.3" y="516.2" width="35.5" height="11.7"/><text class="ty" x="698" y="519.6">2407 people describe<tspan x="698" dy="3.5">on each other's</tspan><tspan x="698" dy="3.5">expertise</tspan></text></g>
<g id="n2408d"><rect class="by" x="704.5" y="504.2" width="27" height="11.7"/><text class="ty" x="718" y="507.6">2408 people who<tspan x="718" dy="3.5">want to be left</tspan><tspan x="718" dy="3.5">alone</tspan></text></g>
<g id="n2377"><text class="tr" x="932" y="344.6">2377 people agree<tspan x="932" dy="3.5">a different language</tspan><tspan x="932" dy="3.5">– nurses</tspan></text></g>
<g id="n2378a"><rect class="by" x="902.8" y="363.9" width="30.4" height="8.2"/><text class="ty" x="918" y="367.4">2378 people like<tspan x="918" dy="3.5">tasks and figures</tspan></text></g>
<g id="n2379a"><rect class="by" x="936.1" y="363.9" width="33.8" height="8.2"/><text class="ty" x="953" y="367.4">2379 nurses just<tspan x="953" dy="3.5">can't make outcomes</tspan></text></g>
<g id="n2370"><text class="t" x="890" y="473.6">2370 circumstance<tspan x="890" dy="3.5">of the things we</tspan><tspan x="890" dy="3.5">cannot</tspan></text></g>
<g id="n2372b"><text class="t" x="818" y="522.6">2372 most people<tspan x="818" dy="3.5">know people in the</tspan><tspan x="818" dy="3.5">workforce</tspan></text></g>
<g id="n2380b"><text class="t" x="869" y="524.4">2380 recognition<tspan x="869" dy="3.5">of community</tspan></text></g>
<g id="n2376b"><use href="#ic" x="901" y="523"/><text class="t" x="918" y="524.4">2376 Integrate a<tspan x="918" dy="3.5">change system</tspan></text></g>
<g id="n2385b"><use href="#ic" x="964" y="516"/><text class="t" x="983" y="517.6">2385 new<tspan x="983" dy="3.5">regulations from</tspan><tspan x="983" dy="3.5">Glasgow – some costs</tspan></text></g>
<g id="n2374a"><text class="t" x="778" y="551.2">2374 help necessities</text></g>
<g id="n2375b"><use href="#ic" x="776" y="562"/><text class="t" x="792" y="563.4">2375 terminated<tspan x="792" dy="3.5">Eagles Bill</tspan></text></g>
<g id="n2378b"><text class="t" x="807" y="575.6">2378 limited<tspan x="807" dy="3.5">programs in the</tspan><tspan x="807" dy="3.5">hospital budget</tspan></text></g>
<g id="n2380c"><text class="t" x="837" y="576.6">2380 the same<tspan x="837" dy="3.5">version of budget</tspan><tspan x="837" dy="3.5">key definitions</tspan></text></g>
<g id="n2377d"><text class="t" x="853" y="562.4">2377 notice to<tspan x="853" dy="3.5">Eagles 2.5</tspan></text></g>
<g id="n2376c"><text class="t" x="855" y="543.6">2376 good ideas<tspan x="855" dy="3.5">seem very helpful</tspan><tspan x="855" dy="3.5">look like benefits</tspan></text></g>
<g id="n2380d"><text class="t" x="898" y="548.4">2380 point the early<tspan x="898" dy="3.5">signs of Eagles</tspan></text></g>
<g id="n2386b"><use href="#ic" x="902" y="560"/><text class="t" x="920" y="563.2">2386 design insights</text></g>
<g id="n2388c"><text class="t" x="937" y="549.4">2388 fix nurses is<tspan x="937" dy="3.5">where to follow</tspan></text></g>
<g id="n2383a"><text class="t" x="963" y="541.4">2383 build a system<tspan x="963" dy="3.5">of common language</tspan></text></g>
<g id="n2389c"><text class="t" x="989" y="549.4">2389 design<tspan x="989" dy="3.5">quantitative numbers</tspan></text></g>
<g id="n2384c"><text class="t" x="1010" y="537.4">2384 manage<tspan x="1010" dy="3.5">resources</tspan></text></g>
<g id="n2450"><text class="t" x="1084" y="354.6">2450 Outreach Team<tspan x="1084" dy="3.5">organise Eagles</tspan><tspan x="1084" dy="3.5">meetings</tspan></text></g>
<g id="n2411e"><text class="t" x="987" y="389.6">2411 currently 75<tspan x="987" dy="3.5">practitioners attend</tspan><tspan x="987" dy="3.5">the meetings</tspan></text></g>
<g id="n2408e"><text class="tr" x="955" y="402.6">2408 this is<tspan x="955" dy="3.5">relevant in</tspan><tspan x="955" dy="3.5">attendance</tspan></text></g>
<g id="n2415b"><text class="t" x="968" y="419.4">2415 Reminder past<tspan x="968" dy="3.5">meetings attend</tspan></text></g>
<g id="n2416a"><use href="#ic" x="983" y="419"/><text class="t" x="1001" y="420.4">2416 Hospital regional<tspan x="1001" dy="3.5">Eagles attendance 1</tspan></text></g>
<g id="n2420d"><text class="t" x="1019" y="404.4">2420 Outreach<tspan x="1019" dy="3.5">session attended 1</tspan></text></g>
<g id="n2468"><text class="t" x="1085" y="399.4">2468 a lot of<tspan x="1085" dy="3.5">sharing goes on</tspan></text></g>
<g id="n2452"><text class="t" x="1211" y="389.6">2452 the meetings<tspan x="1211" dy="3.5">are having a new</tspan><tspan x="1211" dy="3.5">group</tspan></text></g>
<g id="n2413e"><text class="t" x="1001" y="443.2">2413 More classes</text></g>
<g id="n2467"><text class="t" x="1066" y="447.4">2467 team from<tspan x="1066" dy="3.5">existing school</tspan></text></g>
<g id="n2421c"><text class="t" x="1094" y="447.4">2421 academic<tspan x="1094" dy="3.5">for exercise</tspan></text></g>
<g id="n2422b"><text class="t" x="1124" y="447.6">2422 teaching on<tspan x="1124" dy="3.5">high standards</tspan><tspan x="1124" dy="3.5">of group</tspan></text></g>
<g id="n2476"><text class="t" x="1160" y="444.6">2476 bring in ideas<tspan x="1160" dy="3.5">from speakers who</tspan><tspan x="1160" dy="3.5">are rated most</tspan></text></g>
<g id="n2406d"><text class="t" x="968" y="455.4">2406 investigate<tspan x="968" dy="3.5">practice team</tspan></text></g>
<g id="n2414b"><text class="t" x="975" y="471.6">2414 had a strategy<tspan x="975" dy="3.5">to improve</tspan><tspan x="975" dy="3.5">better</tspan></text></g>
<g id="n2415c"><text class="t" x="1000" y="486.4">2415 Eastern<tspan x="1000" dy="3.5">patients</tspan></text></g>
<g id="n2418a"><text class="t" x="1019" y="472.4">2418 nurse clinical<tspan x="1019" dy="3.5">practice scheme</tspan></text></g>
<g id="n2419a"><text class="t" x="1036" y="457.6">2419 get the number<tspan x="1036" dy="3.5">of the next</tspan><tspan x="1036" dy="3.5">organisations</tspan></text></g>
<g id="n2469a"><text class="t" x="1054" y="469.6">2469 will assess<tspan x="1054" dy="3.5">things like</tspan><tspan x="1054" dy="3.5">clients</tspan></text></g>
<g id="n2469b"><text class="t" x="1081" y="470.6">2469 will assess<tspan x="1081" dy="3.5">things like scale</tspan><tspan x="1081" dy="3.5">care</tspan></text></g>
<g id="n2423c"><rect class="by" x="1091.7" y="476.9" width="28.7" height="8.2"/><text class="ty" x="1106" y="480.4">2423 people feel<tspan x="1106" dy="3.5">valued</tspan></text></g>
<g id="n2424a"><rect class="by" x="1105.7" y="493.2" width="28.7" height="11.7"/><text class="ty" x="1120" y="496.6">2424 meetings to<tspan x="1120" dy="3.5">benefit –</tspan><tspan x="1120" dy="3.5">networking</tspan></text></g>
<g id="n2425a"><rect class="by" x="1123.1" y="478.2" width="33.8" height="11.7"/><text class="ty" x="1140" y="481.6">2425 people like to<tspan x="1140" dy="3.5">come – to enter</tspan><tspan x="1140" dy="3.5">the meetings</tspan></text></g>
<g id="n2477"><text class="t" x="1150" y="467.6">2477 get ideas<tspan x="1150" dy="3.5">using improvement</tspan><tspan x="1150" dy="3.5">methodology</tspan></text></g>
<g id="n2478"><text class="t" x="1182" y="469.4">2478 implement<tspan x="1182" dy="3.5">ideas with everyday</tspan></text></g>
<g id="n2457"><text class="t" x="1189" y="417.6">2457 messages from<tspan x="1189" dy="3.5">Outreach Team is</tspan><tspan x="1189" dy="3.5">always there</tspan></text></g>
<g id="n2418b"><text class="t" x="1213" y="431.4">2418 they ask<tspan x="1213" dy="3.5">each other</tspan></text></g>
<g id="n2459"><text class="t" x="1240" y="420.6">2459 a speaker from<tspan x="1240" dy="3.5">Patient Safety is</tspan><tspan x="1240" dy="3.5">always there</tspan></text></g>
<g id="n2417b"><text class="t" x="1243" y="403.6">2417 Immediate feel<tspan x="1243" dy="3.5">in Reminds from</tspan><tspan x="1243" dy="3.5">the meetings</tspan></text></g>
<g id="n2422c"><rect class="by" x="1177.8" y="447.9" width="30.4" height="8.2"/><text class="ty" x="1193" y="451.4">2422 they're very<tspan x="1193" dy="3.5">valuable</tspan></text></g>
<g id="n2420e"><use href="#ic" x="1205" y="457"/><rect class="by" x="1208.4" y="454.2" width="25.3" height="11.7"/><text class="ty" x="1221" y="457.6">2420 they've a<tspan x="1221" dy="3.5">high learning</tspan><tspan x="1221" dy="3.5">gentle</tspan></text></g>
<g id="n2456"><rect class="by" x="1221.1" y="443.9" width="33.8" height="8.2"/><text class="ty" x="1238" y="447.4">2456 they're to<tspan x="1238" dy="3.5">face Patient Safety</tspan></text></g>
</svg>
